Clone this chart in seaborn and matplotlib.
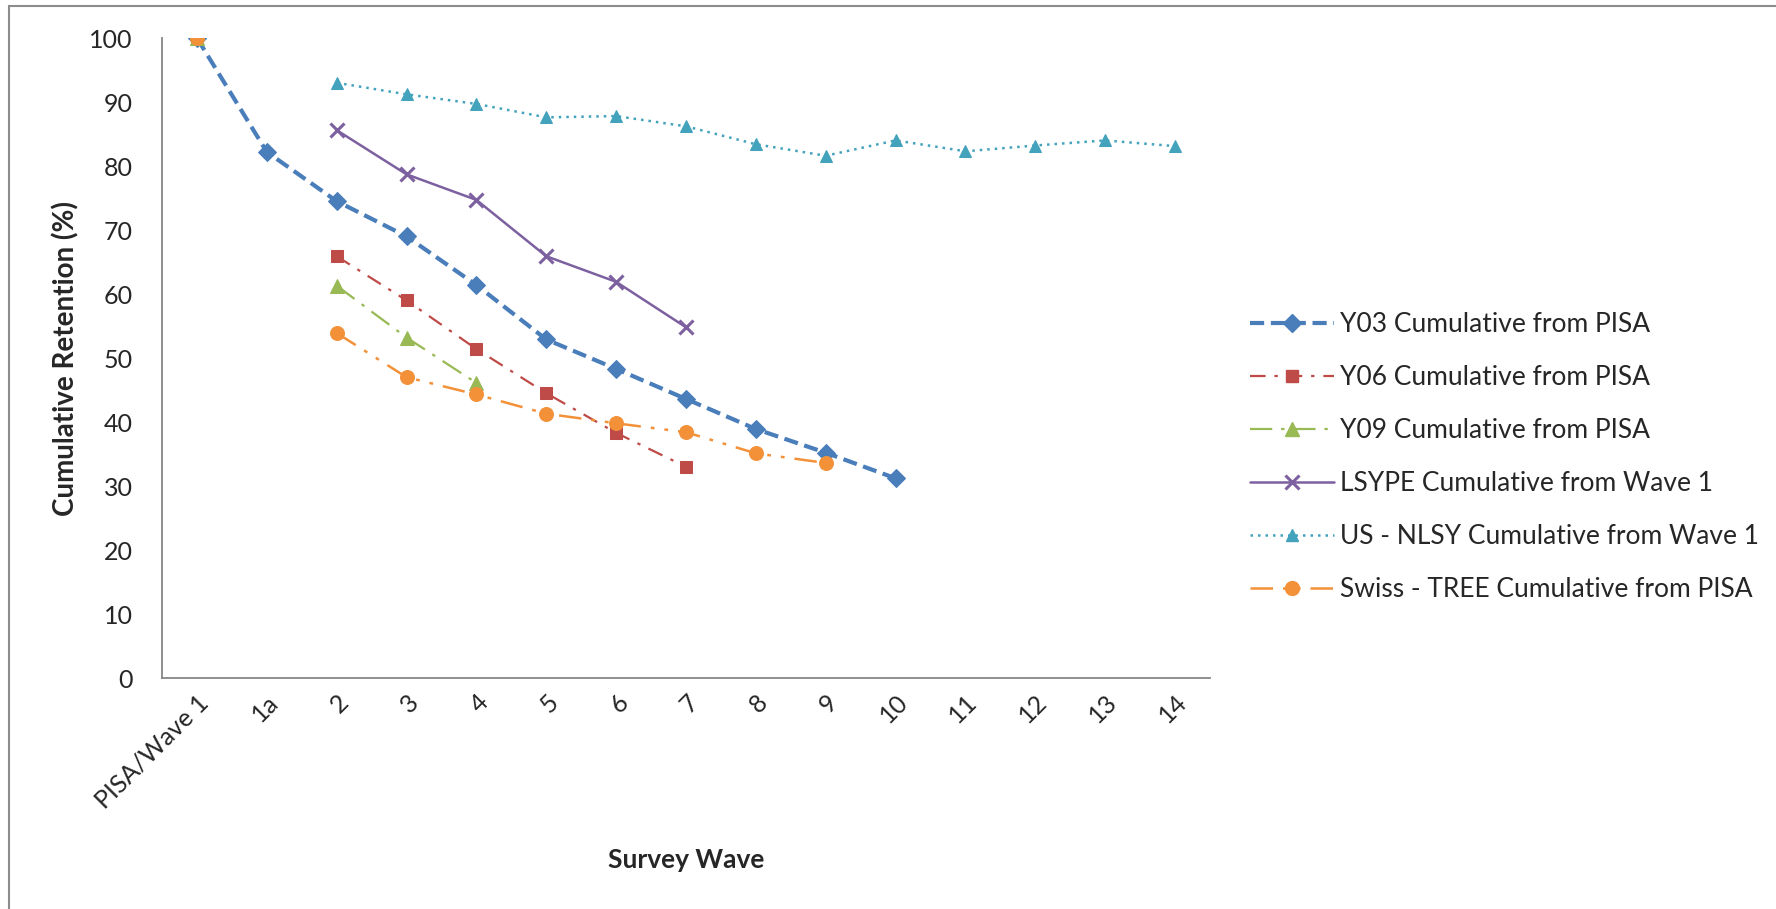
import numpy as np
import pandas as pd
import matplotlib
matplotlib.use("Agg")
import matplotlib.pyplot as plt
from matplotlib.lines import Line2D
from matplotlib.patches import Rectangle
import seaborn as sns

nan = np.nan

# Survey waves on the category axis
waves = ["PISA/Wave 1", "1a", "2", "3", "4", "5", "6", "7",
         "8", "9", "10", "11", "12", "13", "14"]

# Cumulative retention (%) per wave; NaN = wave not surveyed
y03 = [100, 82.2, 74.5, 69.0, 61.4, 52.9, 48.3, 43.6, 38.9, 35.2, 31.2, nan, nan, nan, nan]
y06 = [100, nan, 65.9, 59.0, 51.4, 44.5, 38.3, 33.0, nan, nan, nan, nan, nan, nan, nan]
y09 = [100, nan, 61.3, 53.2, 46.1, nan, nan, nan, nan, nan, nan, nan, nan, nan, nan]
lsype = [nan, nan, 85.6, 78.7, 74.7, 65.9, 61.9, 54.8, nan, nan, nan, nan, nan, nan, nan]
nlsy = [nan, nan, 93.0, 91.2, 89.7, 87.6, 87.8, 86.2, 83.4, 81.6, 84.0, 82.3, 83.2, 84.0, 83.1]
swiss = [100, nan, 53.9, 47.0, 44.3, 41.3, 39.8, 38.4, 35.1, 33.6, nan, nan, nan, nan, nan]

series_names = ["Y03 Cumulative from PISA", "Y06 Cumulative from PISA",
                "Y09 Cumulative from PISA", "LSYPE Cumulative from Wave 1",
                "US - NLSY Cumulative from Wave 1", "Swiss - TREE Cumulative from PISA"]
series_values = [y03, y06, y09, lsype, nlsy, swiss]

styles = [
    dict(color="#4A7EBB", linestyle=(0, (3.4, 1.6)), linewidth=3.0, marker="D", markersize=9),
    dict(color="#BE4B48", linestyle=(0, (7, 4, 1.5, 4)), linewidth=1.6, marker="s", markersize=8.5),
    dict(color="#98B954", linestyle=(0, (10, 4, 1.5, 4)), linewidth=1.6, marker="^", markersize=9.5),
    dict(color="#7D60A0", linestyle="-", linewidth=1.8, marker="x", markersize=10, markeredgewidth=2.2),
    dict(color="#43A2BC", linestyle=(0, (1, 2)), linewidth=1.8, marker="^", markersize=8),
    dict(color="#F39139", linestyle=(0, (9, 4, 1.5, 4, 1.5, 4)), linewidth=1.8, marker="o", markersize=10),
]

sns.set_theme(style="white")
plt.rcParams["font.family"] = ["Lato", "DejaVu Sans"]

W, H = 1776, 909
fig = plt.figure(figsize=(W / 100, H / 100), dpi=100)
ax = fig.add_axes([162 / W, 1 - 678 / H, (1210 - 162) / W, (678 - 38) / H])

pos = np.arange(len(waves))
for z, (name, vals, st) in enumerate(zip(series_names, series_values, styles)):
    df = pd.DataFrame({"pos": pos, "value": vals})
    run_id = df["value"].isna().cumsum()
    valid = df["value"].notna()
    # draw each unbroken run separately so missing waves leave a gap
    for _, seg in df[valid].groupby(run_id[valid]):
        sns.lineplot(data=seg, x="pos", y="value", ax=ax, estimator=None,
                     sort=False, zorder=3 + z, markeredgecolor=st["color"], **st)

ax.set_xlim(-0.5, len(waves) - 0.5)
ax.set_ylim(0, 100)
ax.set_yticks(np.arange(0, 101, 10))
ax.set_xticks(np.arange(-0.5, len(waves), 1.0))
ax.set_xticklabels([])
ax.set_xticks(pos, minor=True)
ax.set_xticklabels(waves, minor=True, rotation=45, ha="right",
                   rotation_mode="anchor", fontsize=18)
ax.tick_params(axis="x", which="major", length=12, width=1.2,
               color="#868686", direction="out")
ax.tick_params(axis="x", which="minor", length=0, pad=9)
ax.tick_params(axis="y", length=8, width=1.2, color="#868686",
               direction="out", labelsize=18, pad=13)
for s in ["top", "right"]:
    ax.spines[s].set_visible(False)
for s in ["left", "bottom"]:
    ax.spines[s].set_color("#868686")
    ax.spines[s].set_linewidth(1.3)
ax.grid(False)

ax.set_xlabel("Survey Wave", fontsize=19, fontweight="bold")
ax.xaxis.set_label_coords(0.5, -0.265)
ax.set_ylabel("Cumulative Retention (%)", fontsize=20, fontweight="bold")
ax.yaxis.set_label_coords(-0.079, 0.5)

handles = [Line2D([], [], markeredgecolor=st["color"], **st) for st in styles]
fig.legend(handles, series_names, loc="center left",
           bbox_to_anchor=(1250 / W, 1 - 457 / H), frameon=False,
           fontsize=19, handlelength=3.2, handletextpad=0.2,
           labelspacing=1.06, borderpad=0, borderaxespad=0)

# chart-area border (only its top and left edges fall inside the canvas)
fig.patches.append(Rectangle((9 / W, -0.2), 1.5, 0.2 + (H - 6) / H,
                             transform=fig.transFigure, fill=False,
                             edgecolor="#8C8C8C", linewidth=1.5))

fig.savefig("out.png", dpi=100, facecolor="white")
